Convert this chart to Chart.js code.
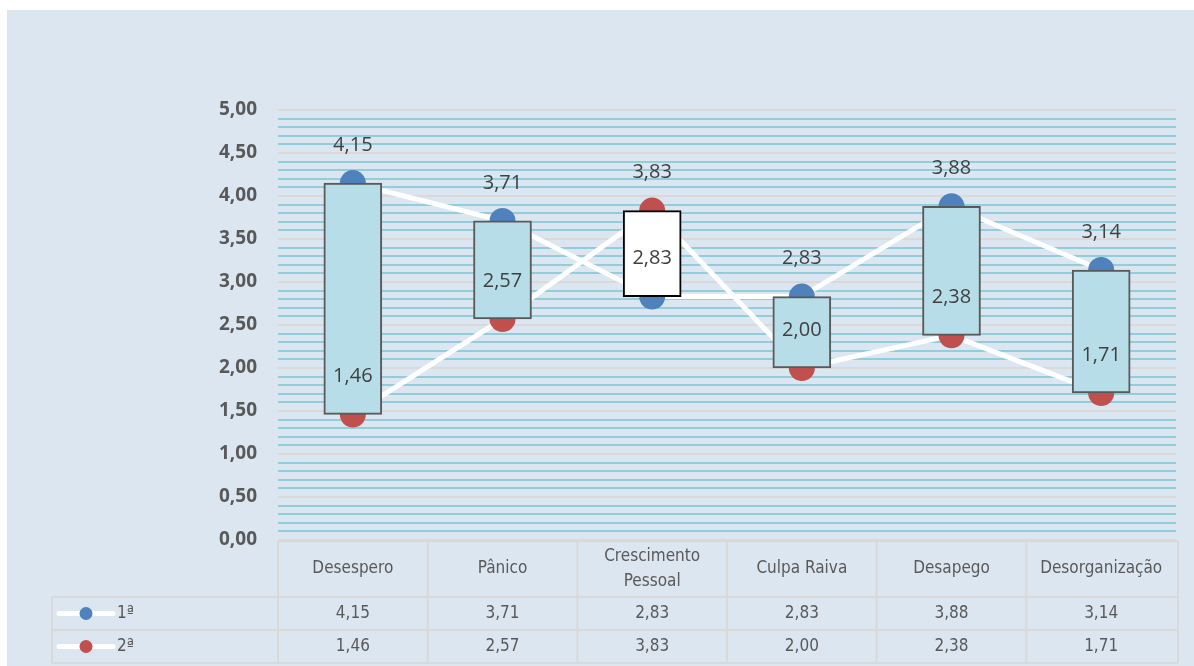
<!DOCTYPE html>
<html lang="pt">
<head>
    <meta charset="UTF-8">
    <title>Comparação 1ª / 2ª</title>
    <script src="https://cdn.jsdelivr.net/npm/chart.js"></script>
    <style>
        body { margin: 0; background: #ffffff; }
        canvas { display: block; }
    </style>
</head>
<body>
    <canvas id="chart" width="1194" height="666"></canvas>

    <script>
        // dados
        const categories = ["Desespero", "Pânico", ["Crescimento", "Pessoal"], "Culpa Raiva", "Desapego", "Desorganização"];
        const seriesNames = ["1ª", "2ª"];
        const first = [4.15, 3.71, 2.83, 2.83, 3.88, 3.14];
        const second = [1.46, 2.57, 3.83, 2.00, 2.38, 1.71];
        const yMin = 0, yMax = 5, yStep = 0.1;

        const bg = "#dce6f1";
        const textGrey = "#595959";
        const colors = ["#4f81bd", "#c0504d"];
        const narrow = "'Liberation Sans Narrow', 'DejaVu Sans Condensed', sans-serif";
        const fmt = v => v.toFixed(2).replace(".", ",");
        const isMajor = v => Math.abs(v * 2 - Math.round(v * 2)) < 1e-6;

        // fundo da área do gráfico
        const backgroundPlugin = {
            id: "bg",
            beforeDraw(chart) {
                const ctx = chart.ctx;
                ctx.save();
                ctx.fillStyle = bg;
                ctx.fillRect(7, 10, chart.width - 7, chart.height - 10);
                ctx.restore();
            }
        };

        // rótulos acima de cada ponto
        const labelPlugin = {
            id: "labels",
            afterDatasetsDraw(chart) {
                const ctx = chart.ctx;
                const y = chart.scales.y, x = chart.scales.x;
                ctx.save();
                ctx.font = "20px 'Open Sans', sans-serif";
                ctx.fillStyle = "#404040";
                ctx.textAlign = "center";
                ctx.textBaseline = "middle";
                [first, second].forEach(arr => {
                    arr.forEach((v, i) => {
                        ctx.fillText(fmt(v), x.getPixelForValue(i), y.getPixelForValue(v) - 38);
                    });
                });
                ctx.restore();
            }
        };

        // tabela de dados por baixo do eixo
        const tablePlugin = {
            id: "table",
            afterDraw(chart) {
                const ctx = chart.ctx;
                const x = chart.scales.x;
                const area = chart.chartArea;
                const half = (x.getPixelForValue(1) - x.getPixelForValue(0)) / 2;
                const top = area.bottom + 1;
                const headH = 56, rowH = 33;
                const left = 52;
                const right = x.getPixelForValue(categories.length - 1) + half + 2;
                const rowsTop = top + headH;
                const bottom = rowsTop + rowH * 2;

                ctx.save();
                ctx.strokeStyle = "#d9d9d9";
                ctx.lineWidth = 2;
                ctx.beginPath();
                ctx.moveTo(area.left, top); ctx.lineTo(right, top);
                for (let r = 0; r <= 2; r++) {
                    ctx.moveTo(left, rowsTop + r * rowH);
                    ctx.lineTo(right, rowsTop + r * rowH);
                }
                ctx.moveTo(left, rowsTop); ctx.lineTo(left, bottom);
                for (let i = 0; i <= categories.length; i++) {
                    const bx = i < categories.length ? x.getPixelForValue(i) - half : right;
                    ctx.moveTo(bx, top); ctx.lineTo(bx, bottom);
                }
                ctx.stroke();

                ctx.fillStyle = textGrey;
                ctx.font = "17px " + narrow;
                ctx.textAlign = "center";
                ctx.textBaseline = "middle";
                categories.forEach((c, i) => {
                    const cx = x.getPixelForValue(i);
                    const lines = Array.isArray(c) ? c : [c];
                    lines.forEach((l, k) => {
                        ctx.fillText(l, cx, top + headH / 2 + (k - (lines.length - 1) / 2) * 25);
                    });
                    ctx.fillText(fmt(first[i]), cx, rowsTop + rowH / 2);
                    ctx.fillText(fmt(second[i]), cx, rowsTop + rowH * 1.5);
                });

                // legenda na primeira coluna
                seriesNames.forEach((s, r) => {
                    const cy = rowsTop + rowH * (r + 0.5);
                    ctx.strokeStyle = "#ffffff";
                    ctx.lineWidth = 5;
                    ctx.lineCap = "round";
                    ctx.beginPath();
                    ctx.moveTo(59, cy); ctx.lineTo(113, cy);
                    ctx.stroke();
                    ctx.fillStyle = colors[r];
                    ctx.beginPath();
                    ctx.arc(86, cy, 6.5, 0, Math.PI * 2);
                    ctx.fill();
                    ctx.fillStyle = textGrey;
                    ctx.textAlign = "left";
                    ctx.fillText(s, 117, cy);
                });
                ctx.restore();
            }
        };

        new Chart(document.getElementById("chart"), {
            data: {
                labels: categories,
                datasets: [
                    {
                        type: "bar",
                        label: "barras",
                        data: first.map((v, i) => [second[i], v]),
                        backgroundColor: first.map((v, i) => second[i] > v ? "#ffffff" : "#b7dee8"),
                        borderColor: first.map((v, i) => second[i] > v ? "#000000" : "#595959"),
                        borderWidth: 2,
                        borderSkipped: false,
                        barThickness: 58,
                        order: 1
                    },
                    {
                        type: "line",
                        label: seriesNames[0],
                        data: first,
                        borderColor: "#ffffff",
                        borderWidth: 5,
                        pointRadius: 13,
                        pointBackgroundColor: colors[0],
                        pointBorderWidth: 0,
                        order: 2
                    },
                    {
                        type: "line",
                        label: seriesNames[1],
                        data: second,
                        borderColor: "#ffffff",
                        borderWidth: 5,
                        pointRadius: 13,
                        pointBackgroundColor: colors[1],
                        pointBorderWidth: 0,
                        order: 3
                    }
                ]
            },
            options: {
                responsive: false,
                animation: false,
                devicePixelRatio: 1,
                layout: { padding: { top: 110, right: 18, bottom: 126, left: 0 } },
                plugins: { legend: { display: false }, tooltip: { enabled: false } },
                scales: {
                    x: { display: false, offset: true, grid: { display: false } },
                    y: {
                        min: yMin,
                        max: yMax,
                        afterFit: s => { s.width = 278; },
                        border: { display: false },
                        grid: {
                            drawTicks: false,
                            color: c => (c.tick && isMajor(c.tick.value)) ? "#d9d9d9" : "#92cddc",
                            lineWidth: 2
                        },
                        ticks: {
                            stepSize: yStep,
                            autoSkip: false,
                            maxTicksLimit: 100,
                            padding: 21,
                            color: textGrey,
                            font: { family: "'Open Sans', sans-serif", size: 19, weight: "bold" },
                            callback: v => isMajor(v) ? fmt(v) : ""
                        }
                    }
                }
            },
            plugins: [backgroundPlugin, labelPlugin, tablePlugin]
        });
    </script>
</body>
</html>
